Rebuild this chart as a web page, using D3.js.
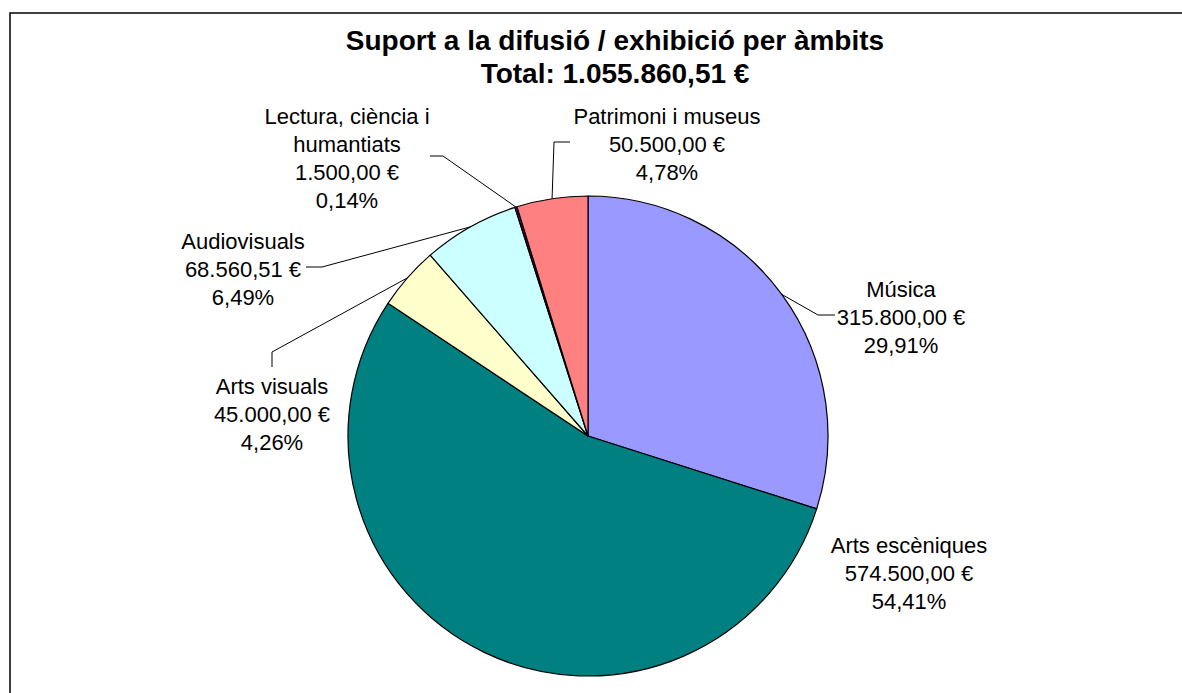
<!DOCTYPE html>
<html lang="ca">
<head>
    <meta charset="UTF-8">
    <script src="https://d3js.org/d3.v7.min.js"></script>
    <style>
        body { margin: 0; background: #fff; font-family: "Liberation Sans", Arial, sans-serif; }
    </style>
</head>
<body>
    <svg id="chart" width="1182" height="693"></svg>
    <script>
        // dades
        const ambits = ["Música", "Arts escèniques", "Arts visuals", "Audiovisuals", "Lectura, ciència i humantiats", "Patrimoni i museus"];
        const imports = [315800.00, 574500.00, 45000.00, 68560.51, 1500.00, 50500.00];
        const colors = ["#9999FF", "#008080", "#FFFFCC", "#CCFFFF", "#660066", "#FF8080"];
        const titol = ["Suport a la difusió / exhibició per àmbits", "Total: 1.055.860,51 €"];

        // posicio de les etiquetes (linies de text, centre x, y primera linia, colze de la linia guia)
        const labelLayout = [
            { lines: ["Música"], x: 901, y: 289, elbow: [[818, 315], [835, 315]] },
            { lines: ["Arts escèniques"], x: 909, y: 545, elbow: null },
            { lines: ["Arts visuals"], x: 272, y: 386, elbow: [[272, 352], [272, 367]] },
            { lines: ["Audiovisuals"], x: 243, y: 241, elbow: [[322, 267], [306, 267]] },
            { lines: ["Lectura, ciència i", "humantiats"], x: 347, y: 116, elbow: [[443, 156], [430, 156]] },
            { lines: ["Patrimoni i museus"], x: 667, y: 116, elbow: [[554, 142], [570, 142]] }
        ];

        const width = 1182, height = 693;
        const cx = 588, cy = 436, radius = 240;
        const total = d3.sum(imports);

        const fmtNum = d3.formatLocale({ decimal: ",", thousands: ".", grouping: [3], currency: ["", " €"] });
        const fmtEur = v => fmtNum.format(",.2f")(v) + " €";
        const fmtPct = v => fmtNum.format(".2f")(v * 100) + "%";

        const svg = d3.select("#chart");

        svg.append("rect")
            .attr("x", 10).attr("y", 13)
            .attr("width", 1210).attr("height", 700)
            .attr("fill", "none")
            .attr("stroke", "#000")
            .attr("stroke-width", 1.5);

        svg.append("text")
            .attr("x", 615)
            .attr("text-anchor", "middle")
            .style("font-size", "28px")
            .style("font-weight", "bold")
            .selectAll("tspan")
            .data(titol)
            .enter().append("tspan")
            .attr("x", 615)
            .attr("y", (d, i) => 50 + i * 33)
            .text(d => d);

        const data = ambits.map((a, i) => ({ ambit: a, valor: imports[i], color: colors[i], layout: labelLayout[i] }));

        const pie = d3.pie().sort(null).value(d => d.valor);
        const arc = d3.arc().innerRadius(0).outerRadius(radius);
        const arcs = pie(data);

        const g = svg.append("g").attr("transform", `translate(${cx},${cy})`);

        g.selectAll("path")
            .data(arcs)
            .enter().append("path")
            .attr("d", arc)
            .attr("fill", d => d.data.color)
            .attr("stroke", "#000")
            .attr("stroke-width", 1.2)
            .attr("stroke-linejoin", "round");

        // linies guia
        arcs.forEach(d => {
            const L = d.data.layout;
            if (!L.elbow) return;
            const a = (d.startAngle + d.endAngle) / 2;
            const p0 = [cx + radius * Math.sin(a), cy - radius * Math.cos(a)];
            const pts = [p0, ...L.elbow];
            svg.append("path")
                .attr("d", d3.line()(pts))
                .attr("fill", "none")
                .attr("stroke", "#000")
                .attr("stroke-width", 1);
        });

        // etiquetes
        arcs.forEach(d => {
            const L = d.data.layout;
            const lines = [...L.lines, fmtEur(d.data.valor), fmtPct(d.data.valor / total)];
            const t = svg.append("text")
                .attr("text-anchor", "middle")
                .attr("dominant-baseline", "central")
                .style("font-size", "22px")
                .attr("fill", "#000");
            lines.forEach((s, i) => {
                t.append("tspan")
                    .attr("x", L.x)
                    .attr("y", L.y + i * 28)
                    .text(s);
            });
        });
    </script>
</body>
</html>
